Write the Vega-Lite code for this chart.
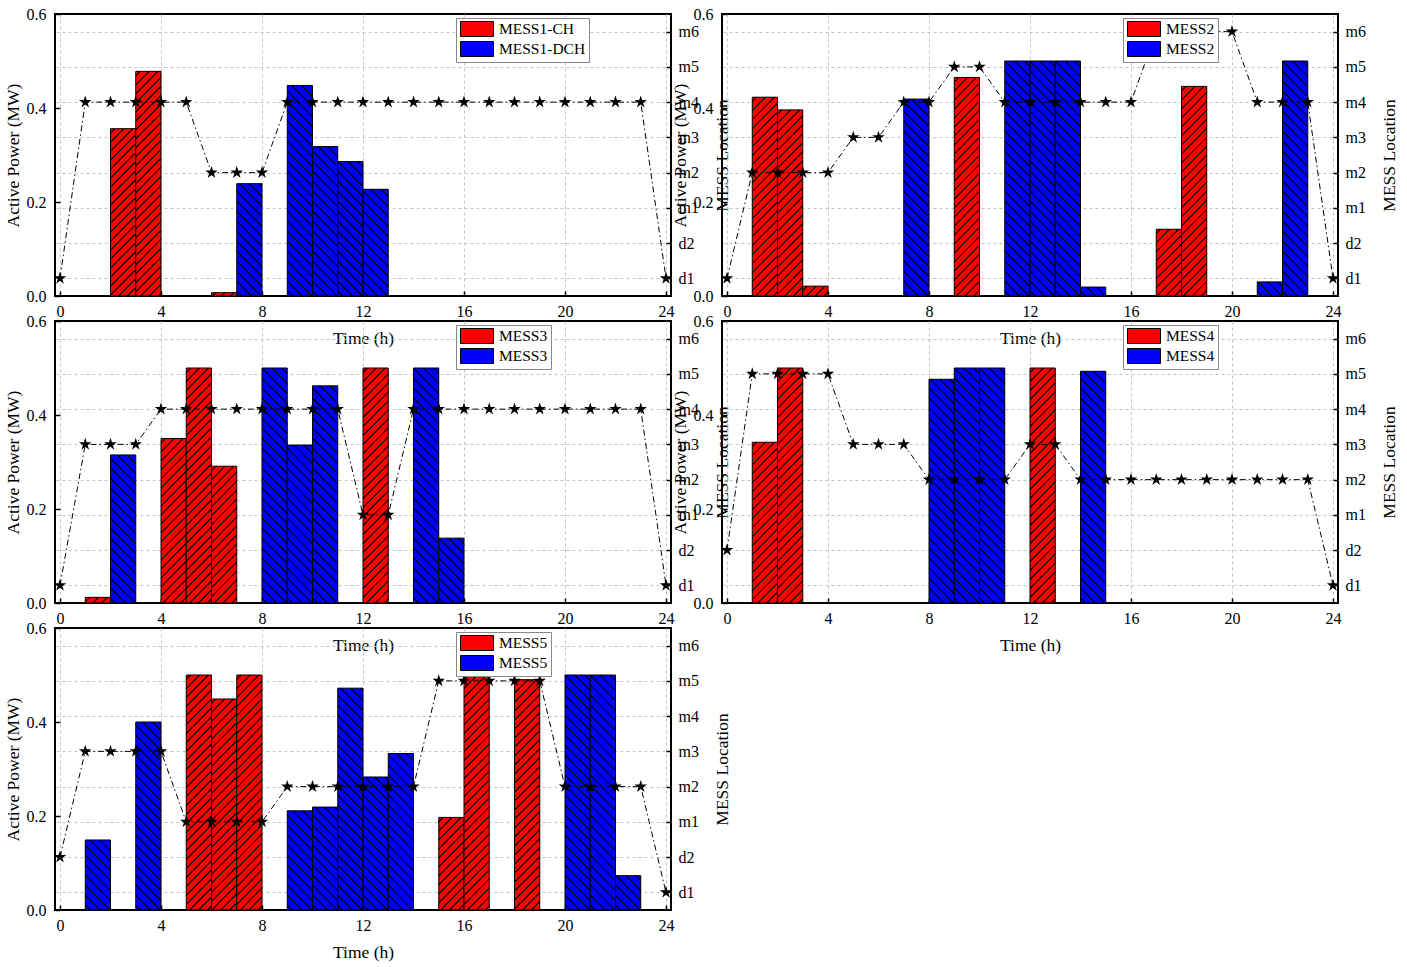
{
  "$schema": "https://vega.github.io/schema/vega-lite/v6.json",
  "background": "white",
  "padding": {"left": 3, "top": 5, "right": 5, "bottom": 5},
  "params": [
    {"name": "hatchR", "value": [
      {"offset": 0, "color": "rgba(0,0,0,0)"},
      {"offset": 0.01245, "color": "rgba(0,0,0,0)"}, {"offset": 0.01547, "color": "black"}, {"offset": 0.01849, "color": "black"}, {"offset": 0.02151, "color": "rgba(0,0,0,0)"},
      {"offset": 0.04641, "color": "rgba(0,0,0,0)"}, {"offset": 0.04943, "color": "black"}, {"offset": 0.05245, "color": "black"}, {"offset": 0.05547, "color": "rgba(0,0,0,0)"},
      {"offset": 0.08038, "color": "rgba(0,0,0,0)"}, {"offset": 0.0834, "color": "black"}, {"offset": 0.08642, "color": "black"}, {"offset": 0.08944, "color": "rgba(0,0,0,0)"},
      {"offset": 0.11434, "color": "rgba(0,0,0,0)"}, {"offset": 0.11736, "color": "black"}, {"offset": 0.12038, "color": "black"}, {"offset": 0.1234, "color": "rgba(0,0,0,0)"},
      {"offset": 0.1483, "color": "rgba(0,0,0,0)"}, {"offset": 0.15132, "color": "black"}, {"offset": 0.15434, "color": "black"}, {"offset": 0.15736, "color": "rgba(0,0,0,0)"},
      {"offset": 0.18226, "color": "rgba(0,0,0,0)"}, {"offset": 0.18528, "color": "black"}, {"offset": 0.1883, "color": "black"}, {"offset": 0.19132, "color": "rgba(0,0,0,0)"},
      {"offset": 0.21622, "color": "rgba(0,0,0,0)"}, {"offset": 0.21924, "color": "black"}, {"offset": 0.22226, "color": "black"}, {"offset": 0.22528, "color": "rgba(0,0,0,0)"},
      {"offset": 0.25019, "color": "rgba(0,0,0,0)"}, {"offset": 0.25321, "color": "black"}, {"offset": 0.25623, "color": "black"}, {"offset": 0.25925, "color": "rgba(0,0,0,0)"},
      {"offset": 0.28415, "color": "rgba(0,0,0,0)"}, {"offset": 0.28717, "color": "black"}, {"offset": 0.29019, "color": "black"}, {"offset": 0.29321, "color": "rgba(0,0,0,0)"},
      {"offset": 0.31811, "color": "rgba(0,0,0,0)"}, {"offset": 0.32113, "color": "black"}, {"offset": 0.32415, "color": "black"}, {"offset": 0.32717, "color": "rgba(0,0,0,0)"},
      {"offset": 0.35207, "color": "rgba(0,0,0,0)"}, {"offset": 0.35509, "color": "black"}, {"offset": 0.35811, "color": "black"}, {"offset": 0.36113, "color": "rgba(0,0,0,0)"},
      {"offset": 0.38604, "color": "rgba(0,0,0,0)"}, {"offset": 0.38906, "color": "black"}, {"offset": 0.39208, "color": "black"}, {"offset": 0.3951, "color": "rgba(0,0,0,0)"},
      {"offset": 0.42, "color": "rgba(0,0,0,0)"}, {"offset": 0.42302, "color": "black"}, {"offset": 0.42604, "color": "black"}, {"offset": 0.42906, "color": "rgba(0,0,0,0)"},
      {"offset": 0.45396, "color": "rgba(0,0,0,0)"}, {"offset": 0.45698, "color": "black"}, {"offset": 0.46, "color": "black"}, {"offset": 0.46302, "color": "rgba(0,0,0,0)"},
      {"offset": 0.48792, "color": "rgba(0,0,0,0)"}, {"offset": 0.49094, "color": "black"}, {"offset": 0.49396, "color": "black"}, {"offset": 0.49698, "color": "rgba(0,0,0,0)"},
      {"offset": 0.52189, "color": "rgba(0,0,0,0)"}, {"offset": 0.52491, "color": "black"}, {"offset": 0.52793, "color": "black"}, {"offset": 0.53095, "color": "rgba(0,0,0,0)"},
      {"offset": 0.55585, "color": "rgba(0,0,0,0)"}, {"offset": 0.55887, "color": "black"}, {"offset": 0.56189, "color": "black"}, {"offset": 0.56491, "color": "rgba(0,0,0,0)"},
      {"offset": 0.58981, "color": "rgba(0,0,0,0)"}, {"offset": 0.59283, "color": "black"}, {"offset": 0.59585, "color": "black"}, {"offset": 0.59887, "color": "rgba(0,0,0,0)"},
      {"offset": 0.62377, "color": "rgba(0,0,0,0)"}, {"offset": 0.62679, "color": "black"}, {"offset": 0.62981, "color": "black"}, {"offset": 0.63283, "color": "rgba(0,0,0,0)"},
      {"offset": 0.65773, "color": "rgba(0,0,0,0)"}, {"offset": 0.66075, "color": "black"}, {"offset": 0.66377, "color": "black"}, {"offset": 0.66679, "color": "rgba(0,0,0,0)"},
      {"offset": 0.6917, "color": "rgba(0,0,0,0)"}, {"offset": 0.69472, "color": "black"}, {"offset": 0.69774, "color": "black"}, {"offset": 0.70076, "color": "rgba(0,0,0,0)"},
      {"offset": 0.72566, "color": "rgba(0,0,0,0)"}, {"offset": 0.72868, "color": "black"}, {"offset": 0.7317, "color": "black"}, {"offset": 0.73472, "color": "rgba(0,0,0,0)"},
      {"offset": 0.75962, "color": "rgba(0,0,0,0)"}, {"offset": 0.76264, "color": "black"}, {"offset": 0.76566, "color": "black"}, {"offset": 0.76868, "color": "rgba(0,0,0,0)"},
      {"offset": 0.79358, "color": "rgba(0,0,0,0)"}, {"offset": 0.7966, "color": "black"}, {"offset": 0.79962, "color": "black"}, {"offset": 0.80264, "color": "rgba(0,0,0,0)"},
      {"offset": 0.82755, "color": "rgba(0,0,0,0)"}, {"offset": 0.83057, "color": "black"}, {"offset": 0.83359, "color": "black"}, {"offset": 0.83661, "color": "rgba(0,0,0,0)"},
      {"offset": 0.86151, "color": "rgba(0,0,0,0)"}, {"offset": 0.86453, "color": "black"}, {"offset": 0.86755, "color": "black"}, {"offset": 0.87057, "color": "rgba(0,0,0,0)"},
      {"offset": 0.89547, "color": "rgba(0,0,0,0)"}, {"offset": 0.89849, "color": "black"}, {"offset": 0.90151, "color": "black"}, {"offset": 0.90453, "color": "rgba(0,0,0,0)"},
      {"offset": 0.92943, "color": "rgba(0,0,0,0)"}, {"offset": 0.93245, "color": "black"}, {"offset": 0.93547, "color": "black"}, {"offset": 0.93849, "color": "rgba(0,0,0,0)"},
      {"offset": 0.96339, "color": "rgba(0,0,0,0)"}, {"offset": 0.96641, "color": "black"}, {"offset": 0.96943, "color": "black"}, {"offset": 0.97245, "color": "rgba(0,0,0,0)"},
      {"offset": 1, "color": "rgba(0,0,0,0)"}
    ]},
    {"name": "hatchB", "value": [
      {"offset": 0, "color": "rgba(0,0,0,0)"},
      {"offset": 0.01434, "color": "rgba(0,0,0,0)"}, {"offset": 0.01736, "color": "black"}, {"offset": 0.02038, "color": "black"}, {"offset": 0.0234, "color": "rgba(0,0,0,0)"},
      {"offset": 0.05207, "color": "rgba(0,0,0,0)"}, {"offset": 0.05509, "color": "black"}, {"offset": 0.05811, "color": "black"}, {"offset": 0.06113, "color": "rgba(0,0,0,0)"},
      {"offset": 0.08981, "color": "rgba(0,0,0,0)"}, {"offset": 0.09283, "color": "black"}, {"offset": 0.09585, "color": "black"}, {"offset": 0.09887, "color": "rgba(0,0,0,0)"},
      {"offset": 0.12755, "color": "rgba(0,0,0,0)"}, {"offset": 0.13057, "color": "black"}, {"offset": 0.13359, "color": "black"}, {"offset": 0.13661, "color": "rgba(0,0,0,0)"},
      {"offset": 0.16528, "color": "rgba(0,0,0,0)"}, {"offset": 0.1683, "color": "black"}, {"offset": 0.17132, "color": "black"}, {"offset": 0.17434, "color": "rgba(0,0,0,0)"},
      {"offset": 0.20302, "color": "rgba(0,0,0,0)"}, {"offset": 0.20604, "color": "black"}, {"offset": 0.20906, "color": "black"}, {"offset": 0.21208, "color": "rgba(0,0,0,0)"},
      {"offset": 0.24075, "color": "rgba(0,0,0,0)"}, {"offset": 0.24377, "color": "black"}, {"offset": 0.24679, "color": "black"}, {"offset": 0.24981, "color": "rgba(0,0,0,0)"},
      {"offset": 0.27849, "color": "rgba(0,0,0,0)"}, {"offset": 0.28151, "color": "black"}, {"offset": 0.28453, "color": "black"}, {"offset": 0.28755, "color": "rgba(0,0,0,0)"},
      {"offset": 0.31622, "color": "rgba(0,0,0,0)"}, {"offset": 0.31924, "color": "black"}, {"offset": 0.32226, "color": "black"}, {"offset": 0.32528, "color": "rgba(0,0,0,0)"},
      {"offset": 0.35396, "color": "rgba(0,0,0,0)"}, {"offset": 0.35698, "color": "black"}, {"offset": 0.36, "color": "black"}, {"offset": 0.36302, "color": "rgba(0,0,0,0)"},
      {"offset": 0.3917, "color": "rgba(0,0,0,0)"}, {"offset": 0.39472, "color": "black"}, {"offset": 0.39774, "color": "black"}, {"offset": 0.40076, "color": "rgba(0,0,0,0)"},
      {"offset": 0.42943, "color": "rgba(0,0,0,0)"}, {"offset": 0.43245, "color": "black"}, {"offset": 0.43547, "color": "black"}, {"offset": 0.43849, "color": "rgba(0,0,0,0)"},
      {"offset": 0.46717, "color": "rgba(0,0,0,0)"}, {"offset": 0.47019, "color": "black"}, {"offset": 0.47321, "color": "black"}, {"offset": 0.47623, "color": "rgba(0,0,0,0)"},
      {"offset": 0.5049, "color": "rgba(0,0,0,0)"}, {"offset": 0.50792, "color": "black"}, {"offset": 0.51094, "color": "black"}, {"offset": 0.51396, "color": "rgba(0,0,0,0)"},
      {"offset": 0.54264, "color": "rgba(0,0,0,0)"}, {"offset": 0.54566, "color": "black"}, {"offset": 0.54868, "color": "black"}, {"offset": 0.5517, "color": "rgba(0,0,0,0)"},
      {"offset": 0.58038, "color": "rgba(0,0,0,0)"}, {"offset": 0.5834, "color": "black"}, {"offset": 0.58642, "color": "black"}, {"offset": 0.58944, "color": "rgba(0,0,0,0)"},
      {"offset": 0.61811, "color": "rgba(0,0,0,0)"}, {"offset": 0.62113, "color": "black"}, {"offset": 0.62415, "color": "black"}, {"offset": 0.62717, "color": "rgba(0,0,0,0)"},
      {"offset": 0.65585, "color": "rgba(0,0,0,0)"}, {"offset": 0.65887, "color": "black"}, {"offset": 0.66189, "color": "black"}, {"offset": 0.66491, "color": "rgba(0,0,0,0)"},
      {"offset": 0.69358, "color": "rgba(0,0,0,0)"}, {"offset": 0.6966, "color": "black"}, {"offset": 0.69962, "color": "black"}, {"offset": 0.70264, "color": "rgba(0,0,0,0)"},
      {"offset": 0.73132, "color": "rgba(0,0,0,0)"}, {"offset": 0.73434, "color": "black"}, {"offset": 0.73736, "color": "black"}, {"offset": 0.74038, "color": "rgba(0,0,0,0)"},
      {"offset": 0.76905, "color": "rgba(0,0,0,0)"}, {"offset": 0.77207, "color": "black"}, {"offset": 0.77509, "color": "black"}, {"offset": 0.77811, "color": "rgba(0,0,0,0)"},
      {"offset": 0.80679, "color": "rgba(0,0,0,0)"}, {"offset": 0.80981, "color": "black"}, {"offset": 0.81283, "color": "black"}, {"offset": 0.81585, "color": "rgba(0,0,0,0)"},
      {"offset": 0.84453, "color": "rgba(0,0,0,0)"}, {"offset": 0.84755, "color": "black"}, {"offset": 0.85057, "color": "black"}, {"offset": 0.85359, "color": "rgba(0,0,0,0)"},
      {"offset": 0.88226, "color": "rgba(0,0,0,0)"}, {"offset": 0.88528, "color": "black"}, {"offset": 0.8883, "color": "black"}, {"offset": 0.89132, "color": "rgba(0,0,0,0)"},
      {"offset": 0.92, "color": "rgba(0,0,0,0)"}, {"offset": 0.92302, "color": "black"}, {"offset": 0.92604, "color": "black"}, {"offset": 0.92906, "color": "rgba(0,0,0,0)"},
      {"offset": 0.95773, "color": "rgba(0,0,0,0)"}, {"offset": 0.96075, "color": "black"}, {"offset": 0.96377, "color": "black"}, {"offset": 0.96679, "color": "rgba(0,0,0,0)"},
      {"offset": 1, "color": "rgba(0,0,0,0)"}
    ]}
  ],
  "datasets": {
    "bars": [
      {"panel": 1, "start": 2, "end": 3, "power": 0.356, "type": "CH"},
      {"panel": 1, "start": 3, "end": 4, "power": 0.478, "type": "CH"},
      {"panel": 1, "start": 6, "end": 7, "power": 0.007, "type": "CH"},
      {"panel": 1, "start": 7, "end": 8, "power": 0.239, "type": "DCH"},
      {"panel": 1, "start": 9, "end": 10, "power": 0.448, "type": "DCH"},
      {"panel": 1, "start": 10, "end": 11, "power": 0.318, "type": "DCH"},
      {"panel": 1, "start": 11, "end": 12, "power": 0.286, "type": "DCH"},
      {"panel": 1, "start": 12, "end": 13, "power": 0.227, "type": "DCH"},
      {"panel": 2, "start": 1, "end": 2, "power": 0.423, "type": "CH"},
      {"panel": 2, "start": 2, "end": 3, "power": 0.396, "type": "CH"},
      {"panel": 2, "start": 3, "end": 4, "power": 0.021, "type": "CH"},
      {"panel": 2, "start": 9, "end": 10, "power": 0.465, "type": "CH"},
      {"panel": 2, "start": 17, "end": 18, "power": 0.142, "type": "CH"},
      {"panel": 2, "start": 18, "end": 19, "power": 0.446, "type": "CH"},
      {"panel": 2, "start": 7, "end": 8, "power": 0.419, "type": "DCH"},
      {"panel": 2, "start": 11, "end": 12, "power": 0.5, "type": "DCH"},
      {"panel": 2, "start": 12, "end": 13, "power": 0.5, "type": "DCH"},
      {"panel": 2, "start": 13, "end": 14, "power": 0.5, "type": "DCH"},
      {"panel": 2, "start": 14, "end": 15, "power": 0.019, "type": "DCH"},
      {"panel": 2, "start": 21, "end": 22, "power": 0.03, "type": "DCH"},
      {"panel": 2, "start": 22, "end": 23, "power": 0.5, "type": "DCH"},
      {"panel": 3, "start": 1, "end": 2, "power": 0.012, "type": "CH"},
      {"panel": 3, "start": 4, "end": 5, "power": 0.35, "type": "CH"},
      {"panel": 3, "start": 5, "end": 6, "power": 0.5, "type": "CH"},
      {"panel": 3, "start": 6, "end": 7, "power": 0.291, "type": "CH"},
      {"panel": 3, "start": 12, "end": 13, "power": 0.5, "type": "CH"},
      {"panel": 3, "start": 2, "end": 3, "power": 0.315, "type": "DCH"},
      {"panel": 3, "start": 8, "end": 9, "power": 0.5, "type": "DCH"},
      {"panel": 3, "start": 9, "end": 10, "power": 0.336, "type": "DCH"},
      {"panel": 3, "start": 10, "end": 11, "power": 0.462, "type": "DCH"},
      {"panel": 3, "start": 14, "end": 15, "power": 0.5, "type": "DCH"},
      {"panel": 3, "start": 15, "end": 16, "power": 0.138, "type": "DCH"},
      {"panel": 4, "start": 1, "end": 2, "power": 0.342, "type": "CH"},
      {"panel": 4, "start": 2, "end": 3, "power": 0.5, "type": "CH"},
      {"panel": 4, "start": 12, "end": 13, "power": 0.5, "type": "CH"},
      {"panel": 4, "start": 8, "end": 9, "power": 0.476, "type": "DCH"},
      {"panel": 4, "start": 9, "end": 10, "power": 0.5, "type": "DCH"},
      {"panel": 4, "start": 10, "end": 11, "power": 0.5, "type": "DCH"},
      {"panel": 4, "start": 14, "end": 15, "power": 0.493, "type": "DCH"},
      {"panel": 5, "start": 5, "end": 6, "power": 0.5, "type": "CH"},
      {"panel": 5, "start": 6, "end": 7, "power": 0.449, "type": "CH"},
      {"panel": 5, "start": 7, "end": 8, "power": 0.5, "type": "CH"},
      {"panel": 5, "start": 15, "end": 16, "power": 0.197, "type": "CH"},
      {"panel": 5, "start": 16, "end": 17, "power": 0.5, "type": "CH"},
      {"panel": 5, "start": 18, "end": 19, "power": 0.49, "type": "CH"},
      {"panel": 5, "start": 1, "end": 2, "power": 0.149, "type": "DCH"},
      {"panel": 5, "start": 3, "end": 4, "power": 0.4, "type": "DCH"},
      {"panel": 5, "start": 9, "end": 10, "power": 0.211, "type": "DCH"},
      {"panel": 5, "start": 10, "end": 11, "power": 0.219, "type": "DCH"},
      {"panel": 5, "start": 11, "end": 12, "power": 0.472, "type": "DCH"},
      {"panel": 5, "start": 12, "end": 13, "power": 0.283, "type": "DCH"},
      {"panel": 5, "start": 13, "end": 14, "power": 0.333, "type": "DCH"},
      {"panel": 5, "start": 20, "end": 21, "power": 0.5, "type": "DCH"},
      {"panel": 5, "start": 21, "end": 22, "power": 0.5, "type": "DCH"},
      {"panel": 5, "start": 22, "end": 23, "power": 0.073, "type": "DCH"}
    ],
    "locs": [
      {"panel": 1, "t": 0, "loc": "d1"}, {"panel": 1, "t": 1, "loc": "m4"}, {"panel": 1, "t": 2, "loc": "m4"}, {"panel": 1, "t": 3, "loc": "m4"}, {"panel": 1, "t": 4, "loc": "m4"}, {"panel": 1, "t": 5, "loc": "m4"}, {"panel": 1, "t": 6, "loc": "m2"}, {"panel": 1, "t": 7, "loc": "m2"}, {"panel": 1, "t": 8, "loc": "m2"}, {"panel": 1, "t": 9, "loc": "m4"}, {"panel": 1, "t": 10, "loc": "m4"}, {"panel": 1, "t": 11, "loc": "m4"}, {"panel": 1, "t": 12, "loc": "m4"}, {"panel": 1, "t": 13, "loc": "m4"}, {"panel": 1, "t": 14, "loc": "m4"}, {"panel": 1, "t": 15, "loc": "m4"}, {"panel": 1, "t": 16, "loc": "m4"}, {"panel": 1, "t": 17, "loc": "m4"}, {"panel": 1, "t": 18, "loc": "m4"}, {"panel": 1, "t": 19, "loc": "m4"}, {"panel": 1, "t": 20, "loc": "m4"}, {"panel": 1, "t": 21, "loc": "m4"}, {"panel": 1, "t": 22, "loc": "m4"}, {"panel": 1, "t": 23, "loc": "m4"}, {"panel": 1, "t": 24, "loc": "d1"},
      {"panel": 2, "t": 0, "loc": "d1"}, {"panel": 2, "t": 1, "loc": "m2"}, {"panel": 2, "t": 2, "loc": "m2"}, {"panel": 2, "t": 3, "loc": "m2"}, {"panel": 2, "t": 4, "loc": "m2"}, {"panel": 2, "t": 5, "loc": "m3"}, {"panel": 2, "t": 6, "loc": "m3"}, {"panel": 2, "t": 7, "loc": "m4"}, {"panel": 2, "t": 8, "loc": "m4"}, {"panel": 2, "t": 9, "loc": "m5"}, {"panel": 2, "t": 10, "loc": "m5"}, {"panel": 2, "t": 11, "loc": "m4"}, {"panel": 2, "t": 12, "loc": "m4"}, {"panel": 2, "t": 13, "loc": "m4"}, {"panel": 2, "t": 14, "loc": "m4"}, {"panel": 2, "t": 15, "loc": "m4"}, {"panel": 2, "t": 16, "loc": "m4"}, {"panel": 2, "t": 17, "loc": "m6"}, {"panel": 2, "t": 18, "loc": "m6"}, {"panel": 2, "t": 19, "loc": "m6"}, {"panel": 2, "t": 20, "loc": "m6"}, {"panel": 2, "t": 21, "loc": "m4"}, {"panel": 2, "t": 22, "loc": "m4"}, {"panel": 2, "t": 23, "loc": "m4"}, {"panel": 2, "t": 24, "loc": "d1"},
      {"panel": 3, "t": 0, "loc": "d1"}, {"panel": 3, "t": 1, "loc": "m3"}, {"panel": 3, "t": 2, "loc": "m3"}, {"panel": 3, "t": 3, "loc": "m3"}, {"panel": 3, "t": 4, "loc": "m4"}, {"panel": 3, "t": 5, "loc": "m4"}, {"panel": 3, "t": 6, "loc": "m4"}, {"panel": 3, "t": 7, "loc": "m4"}, {"panel": 3, "t": 8, "loc": "m4"}, {"panel": 3, "t": 9, "loc": "m4"}, {"panel": 3, "t": 10, "loc": "m4"}, {"panel": 3, "t": 11, "loc": "m4"}, {"panel": 3, "t": 12, "loc": "m1"}, {"panel": 3, "t": 13, "loc": "m1"}, {"panel": 3, "t": 14, "loc": "m4"}, {"panel": 3, "t": 15, "loc": "m4"}, {"panel": 3, "t": 16, "loc": "m4"}, {"panel": 3, "t": 17, "loc": "m4"}, {"panel": 3, "t": 18, "loc": "m4"}, {"panel": 3, "t": 19, "loc": "m4"}, {"panel": 3, "t": 20, "loc": "m4"}, {"panel": 3, "t": 21, "loc": "m4"}, {"panel": 3, "t": 22, "loc": "m4"}, {"panel": 3, "t": 23, "loc": "m4"}, {"panel": 3, "t": 24, "loc": "d1"},
      {"panel": 4, "t": 0, "loc": "d2"}, {"panel": 4, "t": 1, "loc": "m5"}, {"panel": 4, "t": 2, "loc": "m5"}, {"panel": 4, "t": 3, "loc": "m5"}, {"panel": 4, "t": 4, "loc": "m5"}, {"panel": 4, "t": 5, "loc": "m3"}, {"panel": 4, "t": 6, "loc": "m3"}, {"panel": 4, "t": 7, "loc": "m3"}, {"panel": 4, "t": 8, "loc": "m2"}, {"panel": 4, "t": 9, "loc": "m2"}, {"panel": 4, "t": 10, "loc": "m2"}, {"panel": 4, "t": 11, "loc": "m2"}, {"panel": 4, "t": 12, "loc": "m3"}, {"panel": 4, "t": 13, "loc": "m3"}, {"panel": 4, "t": 14, "loc": "m2"}, {"panel": 4, "t": 15, "loc": "m2"}, {"panel": 4, "t": 16, "loc": "m2"}, {"panel": 4, "t": 17, "loc": "m2"}, {"panel": 4, "t": 18, "loc": "m2"}, {"panel": 4, "t": 19, "loc": "m2"}, {"panel": 4, "t": 20, "loc": "m2"}, {"panel": 4, "t": 21, "loc": "m2"}, {"panel": 4, "t": 22, "loc": "m2"}, {"panel": 4, "t": 23, "loc": "m2"}, {"panel": 4, "t": 24, "loc": "d1"},
      {"panel": 5, "t": 0, "loc": "d2"}, {"panel": 5, "t": 1, "loc": "m3"}, {"panel": 5, "t": 2, "loc": "m3"}, {"panel": 5, "t": 3, "loc": "m3"}, {"panel": 5, "t": 4, "loc": "m3"}, {"panel": 5, "t": 5, "loc": "m1"}, {"panel": 5, "t": 6, "loc": "m1"}, {"panel": 5, "t": 7, "loc": "m1"}, {"panel": 5, "t": 8, "loc": "m1"}, {"panel": 5, "t": 9, "loc": "m2"}, {"panel": 5, "t": 10, "loc": "m2"}, {"panel": 5, "t": 11, "loc": "m2"}, {"panel": 5, "t": 12, "loc": "m2"}, {"panel": 5, "t": 13, "loc": "m2"}, {"panel": 5, "t": 14, "loc": "m2"}, {"panel": 5, "t": 15, "loc": "m5"}, {"panel": 5, "t": 16, "loc": "m5"}, {"panel": 5, "t": 17, "loc": "m5"}, {"panel": 5, "t": 18, "loc": "m5"}, {"panel": 5, "t": 19, "loc": "m5"}, {"panel": 5, "t": 20, "loc": "m2"}, {"panel": 5, "t": 21, "loc": "m2"}, {"panel": 5, "t": 22, "loc": "m2"}, {"panel": 5, "t": 23, "loc": "m2"}, {"panel": 5, "t": 24, "loc": "d1"}
    ]
  },
  "columns": 2,
  "spacing": {"row": 25, "column": 51},
  "bounds": "flush",
  "resolve": {"scale": {"color": "independent"}, "legend": {"color": "independent"}},
  "concat": [
    {
      "width": 616, "height": 282,
      "layer": [
        {
          "data": {"name": "bars"},
          "transform": [{"filter": "datum.panel == 1"}],
          "encoding": {
            "x": {"field": "start", "type": "quantitative", "scale": {"domain": [0, 24], "nice": false}, "axis": {"values": [0, 4, 8, 12, 16, 20, 24], "format": "d", "title": "Time (h)", "grid": true}},
            "x2": {"field": "end"},
            "y": {"field": "power", "type": "quantitative", "scale": {"domain": [0, 0.6], "nice": false}, "axis": {"orient": "left", "values": [0, 0.2, 0.4, 0.6], "format": ".1f", "title": "Active Power (MW)", "grid": false}}
          },
          "layer": [
            {"mark": {"type": "bar", "orient": "vertical", "stroke": "black", "strokeWidth": 1, "opacity": 1},
             "encoding": {"color": {"field": "type", "type": "nominal", "scale": {"domain": ["CH", "DCH"], "range": ["#ff0000", "#0000ff"]}, "legend": {"orient": "none", "legendX": 401, "legendY": 4, "labelExpr": "datum.label == 'CH' ? 'MESS1-CH' : 'MESS1-DCH'"}}}},
            {"mark": {"type": "bar", "orient": "vertical", "strokeWidth": 0, "opacity": 1, "fill": {"expr": "datum.type == 'CH' ? {gradient: 'linear', x1: 0, y1: 0, x2: 25.667 * 265 / (658.8 + pow(datum.power * 470, 2)), y2: datum.power * 470 * 265 / (658.8 + pow(datum.power * 470, 2)), stops: hatchR} : {gradient: 'linear', x1: 0, y1: 1, x2: 25.667 * 265 / (658.8 + pow(datum.power * 470, 2)), y2: 1 - datum.power * 470 * 265 / (658.8 + pow(datum.power * 470, 2)), stops: hatchB}"}}}
          ]
        },
        {
          "data": {"name": "locs"},
          "transform": [{"filter": "datum.panel == 1"}],
          "encoding": {
            "x": {"field": "t", "type": "quantitative"},
            "y": {"field": "loc", "type": "ordinal", "scale": {"domain": ["m6", "m5", "m4", "m3", "m2", "m1", "d2", "d1"]}, "axis": {"orient": "right", "title": "MESS Location", "grid": true}}
          },
          "layer": [
            {"mark": {"type": "line", "color": "black", "strokeWidth": 1, "strokeDash": [6, 3, 1.5, 3]}, "encoding": {"order": {"field": "t", "type": "quantitative"}}},
            {"mark": {"type": "point", "shape": "M0,-1L0.2245,-0.309L0.951,-0.309L0.363,0.118L0.588,0.809L0,0.382L-0.588,0.809L-0.363,0.118L-0.951,-0.309L-0.2245,-0.309Z", "filled": true, "color": "black", "size": 170, "opacity": 1}}
          ]
        }
      ],
      "resolve": {"scale": {"y": "independent"}}
    },
    {
      "width": 616, "height": 282,
      "layer": [
        {
          "data": {"name": "bars"},
          "transform": [{"filter": "datum.panel == 2"}],
          "encoding": {
            "x": {"field": "start", "type": "quantitative", "scale": {"domain": [0, 24], "nice": false}, "axis": {"values": [0, 4, 8, 12, 16, 20, 24], "format": "d", "title": "Time (h)", "grid": true}},
            "x2": {"field": "end"},
            "y": {"field": "power", "type": "quantitative", "scale": {"domain": [0, 0.6], "nice": false}, "axis": {"orient": "left", "values": [0, 0.2, 0.4, 0.6], "format": ".1f", "title": "Active Power (MW)", "grid": false}}
          },
          "layer": [
            {"mark": {"type": "bar", "orient": "vertical", "stroke": "black", "strokeWidth": 1, "opacity": 1},
             "encoding": {"color": {"field": "type", "type": "nominal", "scale": {"domain": ["CH", "DCH"], "range": ["#ff0000", "#0000ff"]}, "legend": {"orient": "none", "legendX": 401, "legendY": 4, "labelExpr": "'MESS2'"}}}},
            {"mark": {"type": "bar", "orient": "vertical", "strokeWidth": 0, "opacity": 1, "fill": {"expr": "datum.type == 'CH' ? {gradient: 'linear', x1: 0, y1: 0, x2: 25.667 * 265 / (658.8 + pow(datum.power * 470, 2)), y2: datum.power * 470 * 265 / (658.8 + pow(datum.power * 470, 2)), stops: hatchR} : {gradient: 'linear', x1: 0, y1: 1, x2: 25.667 * 265 / (658.8 + pow(datum.power * 470, 2)), y2: 1 - datum.power * 470 * 265 / (658.8 + pow(datum.power * 470, 2)), stops: hatchB}"}}}
          ]
        },
        {
          "data": {"name": "locs"},
          "transform": [{"filter": "datum.panel == 2"}],
          "encoding": {
            "x": {"field": "t", "type": "quantitative"},
            "y": {"field": "loc", "type": "ordinal", "scale": {"domain": ["m6", "m5", "m4", "m3", "m2", "m1", "d2", "d1"]}, "axis": {"orient": "right", "title": "MESS Location", "grid": true}}
          },
          "layer": [
            {"mark": {"type": "line", "color": "black", "strokeWidth": 1, "strokeDash": [6, 3, 1.5, 3]}, "encoding": {"order": {"field": "t", "type": "quantitative"}}},
            {"mark": {"type": "point", "shape": "M0,-1L0.2245,-0.309L0.951,-0.309L0.363,0.118L0.588,0.809L0,0.382L-0.588,0.809L-0.363,0.118L-0.951,-0.309L-0.2245,-0.309Z", "filled": true, "color": "black", "size": 170, "opacity": 1}}
          ]
        }
      ],
      "resolve": {"scale": {"y": "independent"}}
    },
    {
      "width": 616, "height": 282,
      "layer": [
        {
          "data": {"name": "bars"},
          "transform": [{"filter": "datum.panel == 3"}],
          "encoding": {
            "x": {"field": "start", "type": "quantitative", "scale": {"domain": [0, 24], "nice": false}, "axis": {"values": [0, 4, 8, 12, 16, 20, 24], "format": "d", "title": "Time (h)", "grid": true}},
            "x2": {"field": "end"},
            "y": {"field": "power", "type": "quantitative", "scale": {"domain": [0, 0.6], "nice": false}, "axis": {"orient": "left", "values": [0, 0.2, 0.4, 0.6], "format": ".1f", "title": "Active Power (MW)", "grid": false}}
          },
          "layer": [
            {"mark": {"type": "bar", "orient": "vertical", "stroke": "black", "strokeWidth": 1, "opacity": 1},
             "encoding": {"color": {"field": "type", "type": "nominal", "scale": {"domain": ["CH", "DCH"], "range": ["#ff0000", "#0000ff"]}, "legend": {"orient": "none", "legendX": 401, "legendY": 4, "labelExpr": "'MESS3'"}}}},
            {"mark": {"type": "bar", "orient": "vertical", "strokeWidth": 0, "opacity": 1, "fill": {"expr": "datum.type == 'CH' ? {gradient: 'linear', x1: 0, y1: 0, x2: 25.667 * 265 / (658.8 + pow(datum.power * 470, 2)), y2: datum.power * 470 * 265 / (658.8 + pow(datum.power * 470, 2)), stops: hatchR} : {gradient: 'linear', x1: 0, y1: 1, x2: 25.667 * 265 / (658.8 + pow(datum.power * 470, 2)), y2: 1 - datum.power * 470 * 265 / (658.8 + pow(datum.power * 470, 2)), stops: hatchB}"}}}
          ]
        },
        {
          "data": {"name": "locs"},
          "transform": [{"filter": "datum.panel == 3"}],
          "encoding": {
            "x": {"field": "t", "type": "quantitative"},
            "y": {"field": "loc", "type": "ordinal", "scale": {"domain": ["m6", "m5", "m4", "m3", "m2", "m1", "d2", "d1"]}, "axis": {"orient": "right", "title": "MESS Location", "grid": true}}
          },
          "layer": [
            {"mark": {"type": "line", "color": "black", "strokeWidth": 1, "strokeDash": [6, 3, 1.5, 3]}, "encoding": {"order": {"field": "t", "type": "quantitative"}}},
            {"mark": {"type": "point", "shape": "M0,-1L0.2245,-0.309L0.951,-0.309L0.363,0.118L0.588,0.809L0,0.382L-0.588,0.809L-0.363,0.118L-0.951,-0.309L-0.2245,-0.309Z", "filled": true, "color": "black", "size": 170, "opacity": 1}}
          ]
        }
      ],
      "resolve": {"scale": {"y": "independent"}}
    },
    {
      "width": 616, "height": 282,
      "layer": [
        {
          "data": {"name": "bars"},
          "transform": [{"filter": "datum.panel == 4"}],
          "encoding": {
            "x": {"field": "start", "type": "quantitative", "scale": {"domain": [0, 24], "nice": false}, "axis": {"values": [0, 4, 8, 12, 16, 20, 24], "format": "d", "title": "Time (h)", "grid": true}},
            "x2": {"field": "end"},
            "y": {"field": "power", "type": "quantitative", "scale": {"domain": [0, 0.6], "nice": false}, "axis": {"orient": "left", "values": [0, 0.2, 0.4, 0.6], "format": ".1f", "title": "Active Power (MW)", "grid": false}}
          },
          "layer": [
            {"mark": {"type": "bar", "orient": "vertical", "stroke": "black", "strokeWidth": 1, "opacity": 1},
             "encoding": {"color": {"field": "type", "type": "nominal", "scale": {"domain": ["CH", "DCH"], "range": ["#ff0000", "#0000ff"]}, "legend": {"orient": "none", "legendX": 401, "legendY": 4, "labelExpr": "'MESS4'"}}}},
            {"mark": {"type": "bar", "orient": "vertical", "strokeWidth": 0, "opacity": 1, "fill": {"expr": "datum.type == 'CH' ? {gradient: 'linear', x1: 0, y1: 0, x2: 25.667 * 265 / (658.8 + pow(datum.power * 470, 2)), y2: datum.power * 470 * 265 / (658.8 + pow(datum.power * 470, 2)), stops: hatchR} : {gradient: 'linear', x1: 0, y1: 1, x2: 25.667 * 265 / (658.8 + pow(datum.power * 470, 2)), y2: 1 - datum.power * 470 * 265 / (658.8 + pow(datum.power * 470, 2)), stops: hatchB}"}}}
          ]
        },
        {
          "data": {"name": "locs"},
          "transform": [{"filter": "datum.panel == 4"}],
          "encoding": {
            "x": {"field": "t", "type": "quantitative"},
            "y": {"field": "loc", "type": "ordinal", "scale": {"domain": ["m6", "m5", "m4", "m3", "m2", "m1", "d2", "d1"]}, "axis": {"orient": "right", "title": "MESS Location", "grid": true}}
          },
          "layer": [
            {"mark": {"type": "line", "color": "black", "strokeWidth": 1, "strokeDash": [6, 3, 1.5, 3]}, "encoding": {"order": {"field": "t", "type": "quantitative"}}},
            {"mark": {"type": "point", "shape": "M0,-1L0.2245,-0.309L0.951,-0.309L0.363,0.118L0.588,0.809L0,0.382L-0.588,0.809L-0.363,0.118L-0.951,-0.309L-0.2245,-0.309Z", "filled": true, "color": "black", "size": 170, "opacity": 1}}
          ]
        }
      ],
      "resolve": {"scale": {"y": "independent"}}
    },
    {
      "width": 616, "height": 282,
      "layer": [
        {
          "data": {"name": "bars"},
          "transform": [{"filter": "datum.panel == 5"}],
          "encoding": {
            "x": {"field": "start", "type": "quantitative", "scale": {"domain": [0, 24], "nice": false}, "axis": {"values": [0, 4, 8, 12, 16, 20, 24], "format": "d", "title": "Time (h)", "grid": true}},
            "x2": {"field": "end"},
            "y": {"field": "power", "type": "quantitative", "scale": {"domain": [0, 0.6], "nice": false}, "axis": {"orient": "left", "values": [0, 0.2, 0.4, 0.6], "format": ".1f", "title": "Active Power (MW)", "grid": false}}
          },
          "layer": [
            {"mark": {"type": "bar", "orient": "vertical", "stroke": "black", "strokeWidth": 1, "opacity": 1},
             "encoding": {"color": {"field": "type", "type": "nominal", "scale": {"domain": ["CH", "DCH"], "range": ["#ff0000", "#0000ff"]}, "legend": {"orient": "none", "legendX": 401, "legendY": 4, "labelExpr": "'MESS5'"}}}},
            {"mark": {"type": "bar", "orient": "vertical", "strokeWidth": 0, "opacity": 1, "fill": {"expr": "datum.type == 'CH' ? {gradient: 'linear', x1: 0, y1: 0, x2: 25.667 * 265 / (658.8 + pow(datum.power * 470, 2)), y2: datum.power * 470 * 265 / (658.8 + pow(datum.power * 470, 2)), stops: hatchR} : {gradient: 'linear', x1: 0, y1: 1, x2: 25.667 * 265 / (658.8 + pow(datum.power * 470, 2)), y2: 1 - datum.power * 470 * 265 / (658.8 + pow(datum.power * 470, 2)), stops: hatchB}"}}}
          ]
        },
        {
          "data": {"name": "locs"},
          "transform": [{"filter": "datum.panel == 5"}],
          "encoding": {
            "x": {"field": "t", "type": "quantitative"},
            "y": {"field": "loc", "type": "ordinal", "scale": {"domain": ["m6", "m5", "m4", "m3", "m2", "m1", "d2", "d1"]}, "axis": {"orient": "right", "title": "MESS Location", "grid": true}}
          },
          "layer": [
            {"mark": {"type": "line", "color": "black", "strokeWidth": 1, "strokeDash": [6, 3, 1.5, 3]}, "encoding": {"order": {"field": "t", "type": "quantitative"}}},
            {"mark": {"type": "point", "shape": "M0,-1L0.2245,-0.309L0.951,-0.309L0.363,0.118L0.588,0.809L0,0.382L-0.588,0.809L-0.363,0.118L-0.951,-0.309L-0.2245,-0.309Z", "filled": true, "color": "black", "size": 170, "opacity": 1}}
          ]
        }
      ],
      "resolve": {"scale": {"y": "independent"}}
    }
  ],
  "config": {
    "font": "Liberation Serif",
    "view": {"stroke": "black", "strokeWidth": 2},
    "axis": {
      "labelFont": "Liberation Serif", "labelFontSize": 16, "labelColor": "black",
      "titleFont": "Liberation Serif", "titleFontSize": 17.5, "titleFontWeight": "normal", "titleColor": "black",
      "domain": false,
      "tickColor": "black", "tickWidth": 1.5, "tickSize": -5, "labelPadding": 12,
      "gridColor": "#c4c4c4", "gridDash": [3, 3], "gridWidth": 1
    },
    "axisLeft": {"titlePadding": 4, "labelPadding": 14},
    "axisRight": {"titleAngle": 270, "titleBaseline": "top", "titlePadding": 15},
    "axisBottom": {"titlePadding": 10, "labelPadding": 12},
    "legend": {
      "title": null,
      "labelFont": "Liberation Serif", "labelFontSize": 15.5, "labelColor": "black",
      "symbolType": "M-2.2,-1H2.2V1H-2.2Z", "symbolSize": 225, "symbolStrokeColor": "black", "symbolStrokeWidth": 1, "symbolOpacity": 1,
      "strokeColor": "#888888", "fillColor": "white", "padding": 3, "rowPadding": 0, "symbolOffset": 10, "labelOffset": 14
    }
  }
}
